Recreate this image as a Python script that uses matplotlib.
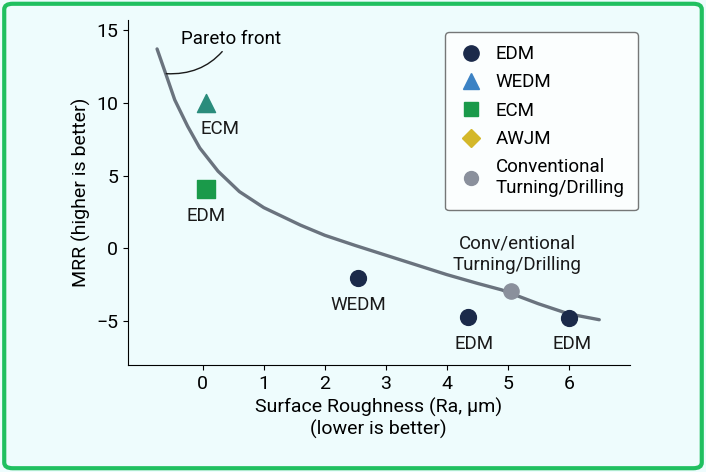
import matplotlib
matplotlib.use("Agg")
import matplotlib.pyplot as plt
from matplotlib.lines import Line2D
from matplotlib.patches import FancyBboxPatch
import numpy as np

plt.rcParams["font.family"] = "Roboto"

# Pareto front (read points)
front_x = [-0.75, -0.6, -0.46, -0.25, -0.05, 0.25, 0.6, 1.0, 1.6, 2.0, 2.5, 3.25, 4.0, 4.5, 4.9, 5.5, 6.0, 6.5]
front_y = [13.7, 11.9, 10.2, 8.4, 6.9, 5.3, 3.9, 2.8, 1.6, 0.9, 0.2, -0.8, -1.8, -2.4, -2.85, -3.8, -4.5, -4.9]

edm_x = [2.55, 4.35, 6.0]
edm_y = [-2.0, -4.7, -4.8]
tri_x, tri_y = [0.05], [10.0]
sq_x, sq_y = [0.05], [4.1]
conv_x, conv_y = [5.05], [-2.9]

labels = ["ECM", "EDM", "WEDM", "EDM", "EDM", "Conv/entional\nTurning/Drilling"]
label_x = [0.28, 0.05, 2.55, 4.45, 6.05, 5.15]
label_y = [8.2, 2.2, -3.9, -6.6, -6.6, -0.4]

legend_names = ["EDM", "WEDM", "ECM", "AWJM", "Conventional\nTurning/Drilling"]

fig = plt.figure(figsize=(7.06, 4.72), dpi=100)
fig.patch.set_facecolor("#eefcfd")
fig.patches.append(FancyBboxPatch((0.006, 0.008), 0.988, 0.984, boxstyle="round,pad=0,rounding_size=0.012",
                                  transform=fig.transFigure, fill=False, ec="#20c060", lw=3))
ax = fig.add_axes([0.181, 0.227, 0.711, 0.731])
ax.set_facecolor("#eefcfd")
ax.set_xlim(-1.23, 7.0)
ax.set_ylim(-8.0, 15.7)
for s in ["top", "right"]:
    ax.spines[s].set_visible(False)
ax.set_xticks(range(0, 7))
ax.set_yticks([-5, 0, 5, 10, 15])
ax.set_yticklabels(["\u22125", "0", "5", "10", "15"])
ax.tick_params(labelsize=14)

ax.plot(front_x, front_y, color="#6a737e", lw=2.4, zorder=2, solid_capstyle="round", solid_joinstyle="round")
ax.scatter(edm_x, edm_y, s=130, color="#1b2a4a", zorder=3)
ax.scatter(tri_x, tri_y, s=170, marker="^", color="#2a8c7c", zorder=3)
ax.scatter(sq_x, sq_y, s=170, marker="s", color="#1a9a4a", zorder=3)
ax.scatter(conv_x, conv_y, s=120, color="#8a909c", zorder=3)
for t, x, y in zip(labels, label_x, label_y):
    ax.text(x, y, t, ha="center", va="center", fontsize=13.5, color="#1a1a1a")

ax.annotate("Pareto front", xy=(-0.6, 12.0), xytext=(-0.35, 14.4), fontsize=13.5, va="center",
            arrowprops=dict(arrowstyle="-", color="#1a1a1a", lw=1, connectionstyle="arc3,rad=-0.3",
                            shrinkA=1, shrinkB=0))

ax.set_xlabel("Surface Roughness (Ra, \u03bcm)\n(lower is better)", fontsize=14)
ax.set_ylabel("MRR (higher is better)", fontsize=14)

handles = [
    Line2D([], [], marker="o", ls="", ms=11, color="#1b2a4a"),
    Line2D([], [], marker="^", ls="", ms=11, color="#3b82c4"),
    Line2D([], [], marker="s", ls="", ms=10, color="#1a9a4a"),
    Line2D([], [], marker="D", ls="", ms=9, color="#d4b82a"),
    Line2D([], [], marker="o", ls="", ms=10, color="#8a909c"),
]
leg = fig.legend(handles, legend_names, loc="upper left", bbox_to_anchor=(0.617, 0.952),
                 fontsize=13.5, frameon=True, edgecolor="#555555", facecolor="white",
                 labelspacing=0.55, borderpad=0.7, handletextpad=0.6, handlelength=1.4)
leg.get_frame().set_linewidth(1)

fig.savefig("out.png", dpi=100, facecolor=fig.get_facecolor())
